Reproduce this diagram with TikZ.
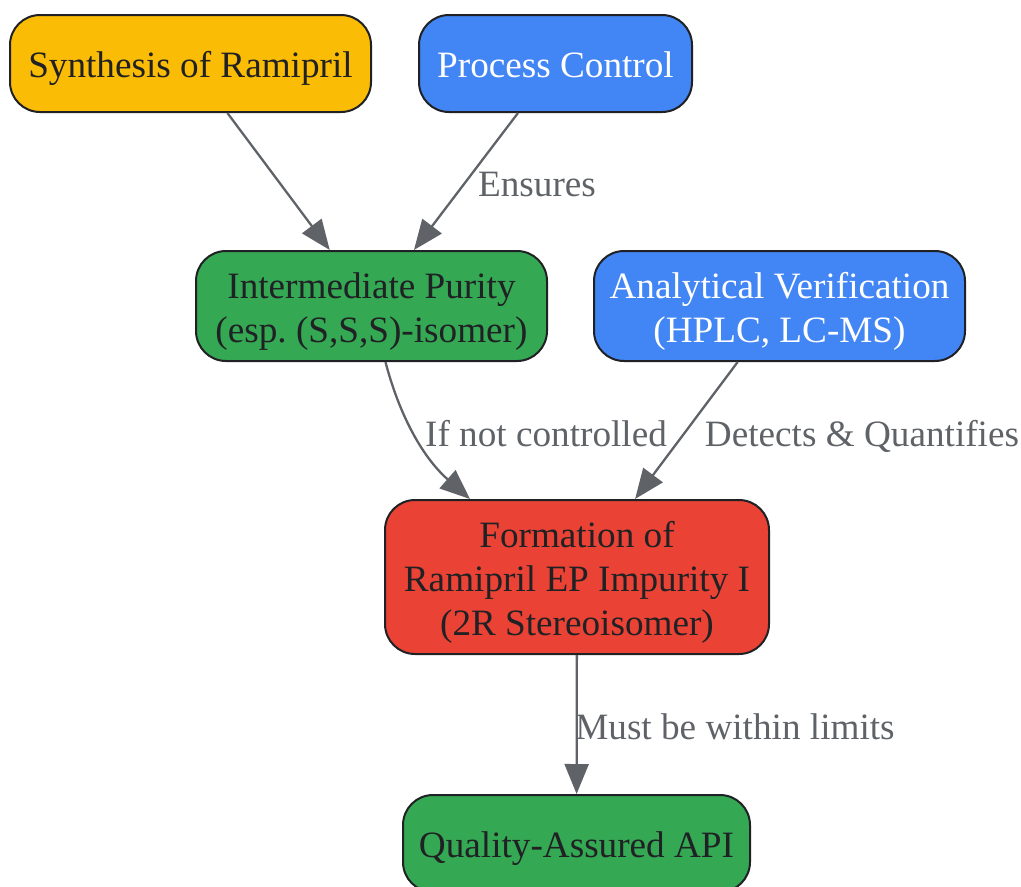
\documentclass[tikz,border=0pt]{standalone}
\usepackage{fontspec}
\setmainfont{Liberation Serif}
\usetikzlibrary{arrows.meta,calc}
\definecolor{cyellow}{HTML}{FBBC05}
\definecolor{cblue}{HTML}{4285F4}
\definecolor{cgreen}{HTML}{34A853}
\definecolor{cred}{HTML}{EA4335}
\definecolor{cborder}{HTML}{202124}
\definecolor{ctext}{HTML}{202124}
\definecolor{cedge}{HTML}{5F6368}
\newcommand\tstrut{\rule{0pt}{40pt}}
\newcommand\bstrut{\rule[-12pt]{0pt}{0pt}}
\frenchspacing
\begin{document}
\begin{tikzpicture}[x=1pt,y=-1pt,
  box/.style={draw=cborder,line width=2pt,rounded corners=30pt,align=center,
    font=\fontsize{37.2}{44}\selectfont,inner sep=0pt,text=ctext},
  conn/.style={draw=cedge,line width=2.3pt,-{Triangle[length=30pt,width=24pt]}},
  lbl/.style={text=cedge,font=\fontsize{37.2}{44}\selectfont,inner sep=0pt,anchor=base}]
\useasboundingbox (0,0) rectangle (1021,887);
\node[box,fill=cyellow,minimum width=361pt,minimum height=97pt] (syn) at (190.5,63.5) {\tstrut Synthesis of Ramipril\bstrut};
\node[box,fill=cblue,text=white,minimum width=273pt,minimum height=97pt] (pc) at (555.5,63.5) {\tstrut Process Control\bstrut};
\node[box,fill=cgreen,minimum width=351pt,minimum height=110pt] (ip) at (371.5,306) {\tstrut Intermediate Purity\\(esp. (S,S,S)-isomer)\bstrut};
\node[box,fill=cblue,text=white,minimum width=371pt,minimum height=110pt] (av) at (779.5,306) {\tstrut Analytical Verification\\(HPLC, LC-MS)\bstrut};
\node[box,fill=cred,minimum width=384pt,minimum height=154pt] (fo) at (577,577) {\tstrut Formation of\\Ramipril EP Impurity I\\(2R Stereoisomer)\bstrut};
\node[box,fill=cgreen,minimum width=347pt,minimum height=97pt] (qa) at (576.5,843.5) {\tstrut Quality-Assured API\bstrut};
\draw[conn] (syn) -- (ip);
\draw[conn] (pc) -- (ip);
\draw[conn] ($(ip.south)+(14,0)$) .. controls (398,410) and (420,455) .. ($(fo.north)+(-107,0)$);
\draw[conn] (av) -- (fo);
\draw[conn] (fo) -- (qa);
\node[lbl] (l1) at (537,196) {Ensures};
\node[lbl] (l2) at (546,446) {If not controlled};
\node[lbl] (l3) at (862,446) {Detects \& Quantifies};
\node[lbl] (l4) at (735,739) {Must be within limits};
\end{tikzpicture}
\end{document}
